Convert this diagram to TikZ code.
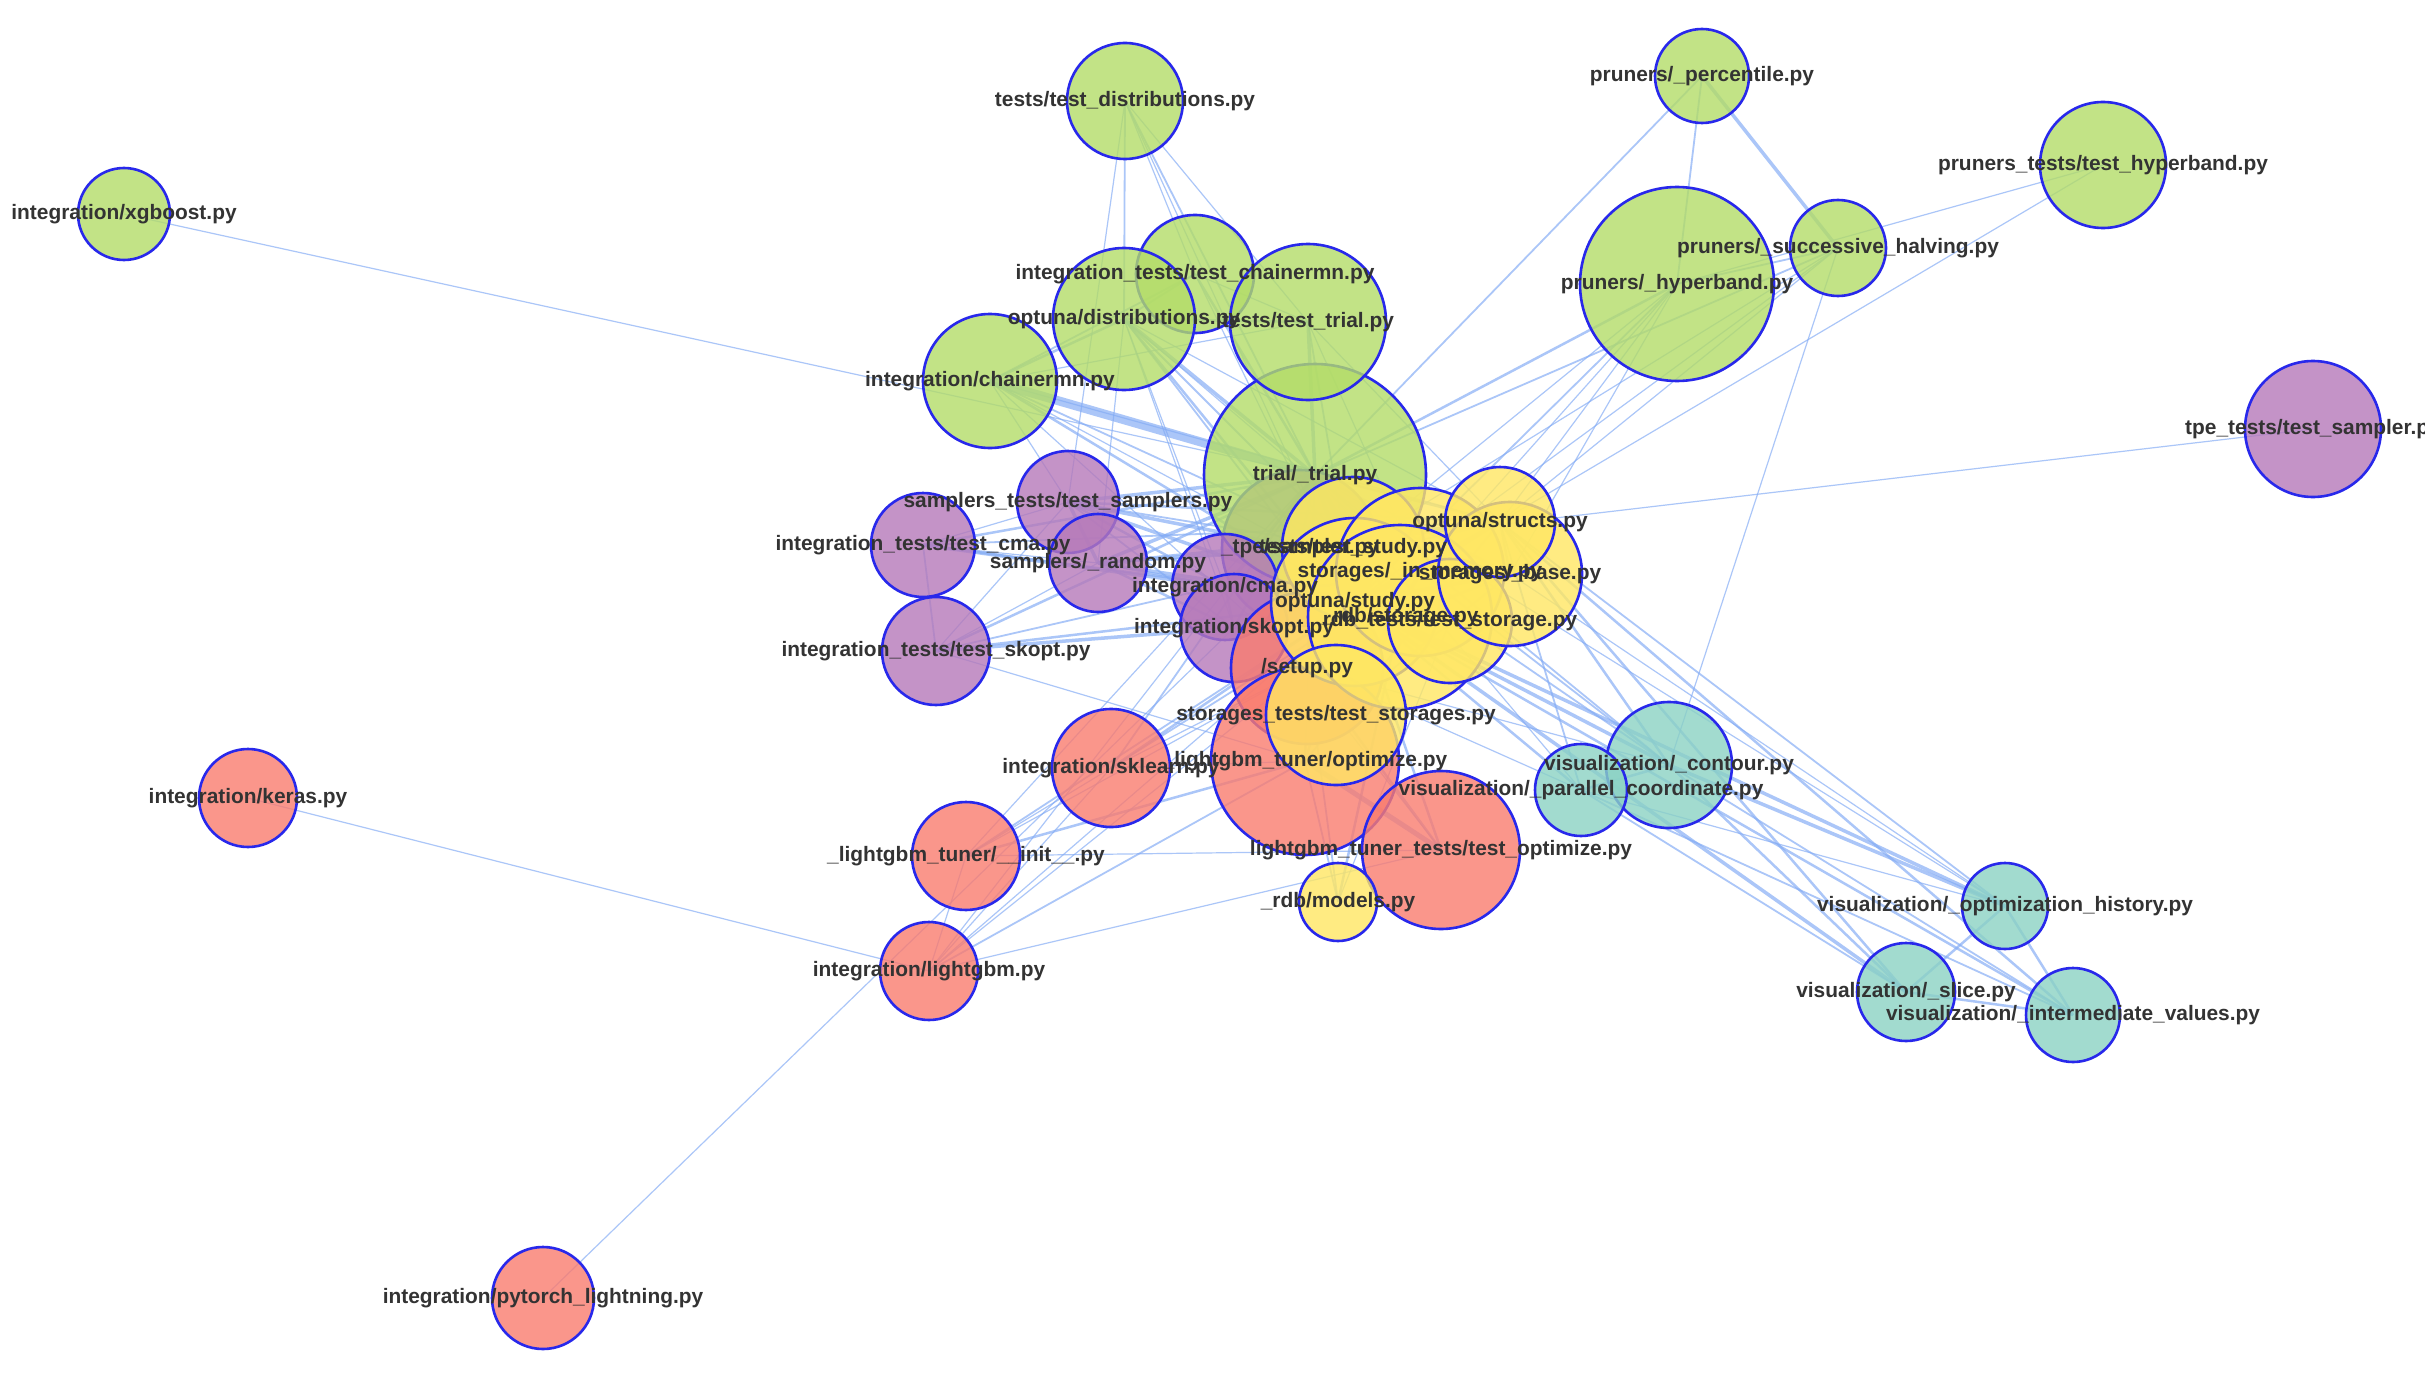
\documentclass[tikz,border=0pt]{standalone}
\usepackage{fontspec}
\setmainfont{Liberation Sans}
\definecolor{cgreen}{RGB}{179,220,104}
\definecolor{cpurple}{RGB}{182,121,185}
\definecolor{cyellow}{RGB}{255,231,99}
\definecolor{cred}{RGB}{249,124,111}
\definecolor{cteal}{RGB}{139,210,196}
\definecolor{cborder}{RGB}{40,40,235}
\definecolor{cedge}{RGB}{132,172,245}
\definecolor{ctext}{RGB}{51,51,51}
\begin{document}
\begin{tikzpicture}[x=1pt,y=-1pt,
  nd/.style={circle, draw=cborder, line width=2.6pt, fill opacity=0.8, inner sep=0pt, outer sep=0pt},
  ed/.style={draw=cedge, draw opacity=0.68, line width=#1pt},
  ed/.default=1,
  lbl/.style={font=\fontsize{20.9}{25}\selectfont\bfseries, text=ctext, inner sep=0pt}]
\fill[white] (0,0) rectangle (2425,1375);
\useasboundingbox (0,0) rectangle (2425,1375);
% centres
\coordinate (xgb) at (124,214);
\coordinate (tdist) at (1125,101);
\coordinate (perc) at (1702,76);
\coordinate (thyper) at (2103,165);
\coordinate (sh) at (1838,248);
\coordinate (hyper) at (1677,284);
\coordinate (chmn) at (990,381);
\coordinate (dist) at (1124,319);
\coordinate (tchmn) at (1195,274);
\coordinate (ttrial) at (1308,322);
\coordinate (trial) at (1315,475);
\coordinate (tpets) at (2313,429);
\coordinate (stests) at (1068,502);
\coordinate (tcma) at (923,545);
\coordinate (random) at (1098,563);
\coordinate (tskopt) at (936,651);
\coordinate (cma) at (1225,587);
\coordinate (skopt) at (1234,628);
\coordinate (tpe) at (1300,548);
\coordinate (structs) at (1500,522);
\coordinate (base) at (1510,574);
\coordinate (tstudy) at (1353,548);
\coordinate (inmem) at (1420,572);
\coordinate (study) at (1355,602);
\coordinate (rdbst) at (1400,617);
\coordinate (trdb) at (1450,621);
\coordinate (tstor) at (1336,715);
\coordinate (models) at (1338,902);
\coordinate (setup) at (1307,668);
\coordinate (sklearn) at (1111,768);
\coordinate (lgbopt) at (1305,761);
\coordinate (lgbtest) at (1441,850);
\coordinate (init) at (966,856);
\coordinate (lgb) at (929,971);
\coordinate (keras) at (248,798);
\coordinate (ptl) at (543,1298);
\coordinate (contour) at (1669,765);
\coordinate (parcoord) at (1581,790);
\coordinate (hist) at (2005,906);
\coordinate (slice) at (1906,992);
\coordinate (interm) at (2073,1015);
% edges
\foreach \a/\b/\w in {
 xgb/trial/1.2, tdist/dist/1.8, tdist/tchmn/1.2, tdist/ttrial/1.2, tdist/trial/1.8, tdist/study/1.2, tdist/stests/1.2,
 perc/hyper/1.8, perc/sh/3.5, perc/trial/1.8, thyper/hyper/1.2, thyper/structs/1.2,
 sh/hyper/1.8, sh/trial/1.8, sh/study/1.2, sh/tstudy/1.2, sh/contour/1.2, sh/structs/1.2,
 hyper/trial/2.5, hyper/study/1.8, hyper/tstudy/1.2, hyper/structs/1.2, hyper/inmem/1.2, hyper/base/1.2,
 chmn/trial/9, chmn/dist/2.5, chmn/study/2.5, chmn/tchmn/1.8, chmn/ttrial/1.2, chmn/tstudy/1.8, chmn/structs/1.2,
 chmn/setup/1.2, chmn/tpe/1.2, chmn/stests/1.2,
 dist/trial/3.5, dist/ttrial/2.5, dist/tchmn/1.8, dist/study/2.5, dist/tstudy/1.8, dist/inmem/1.2, dist/random/1.2,
 dist/tpe/1.8, dist/cma/1.2, dist/skopt/1.2, dist/structs/1.2,
 tchmn/trial/2.5, tchmn/ttrial/1.2, tchmn/study/1.2, ttrial/trial/3.5, ttrial/study/1.8, ttrial/structs/1.2, ttrial/inmem/1.2,
 trial/study/5, trial/tstudy/3.5, trial/structs/2.5, trial/inmem/2.5, trial/base/2.5, trial/rdbst/2.5, trial/setup/1.8,
 trial/cma/2.5, trial/skopt/2.5, trial/random/3.5, trial/stests/3.5, trial/tcma/2.5, trial/tskopt/2.5, trial/tpe/3.5,
 trial/sklearn/1.8, trial/lgbopt/1.8, trial/contour/1.8, trial/parcoord/1.2, trial/lgb/1.2, trial/init/1.2, trial/hist/1.2,
 stests/random/3.5, stests/tpe/3.5, stests/study/3.5, stests/structs/2.5, stests/tstudy/1.8, stests/cma/2.5, stests/skopt/1.8, stests/tcma/1.2,
 tcma/cma/3.5, tcma/study/2.5, tcma/tskopt/1.8, tcma/random/1.2, tcma/structs/1.8,
 tskopt/skopt/3.5, tskopt/study/2.5, tskopt/structs/1.8, tskopt/random/1.2, tskopt/stests/1.2, tskopt/lgbopt/1.2,
 random/study/3.5, random/tpe/3.5, random/structs/2.5, random/cma/2.5, random/skopt/2.5, random/tstudy/1.8,
 cma/study/2.5, cma/skopt/2.5, skopt/study/2.5, tpe/study/2.5, tpe/structs/1.8, tpets/tpe/1.2,
 study/structs/3.5, study/tstudy/3.5, study/inmem/3.5, study/base/3.5, study/rdbst/3.5, study/tstor/2.5, study/setup/1.8,
 structs/inmem/1.8, structs/base/2.5, inmem/base/2.5, inmem/tstor/2.5, rdbst/trdb/2.5, rdbst/models/2.5, rdbst/tstor/2.5,
 rdbst/base/2.5, trdb/models/1.2, models/setup/1.8, models/lgbopt/1.8, tstor/base/1.8,
 setup/sklearn/1.2, setup/lgbopt/2.5, setup/lgbtest/2.5, setup/init/1.2, setup/lgb/1.2,
 sklearn/study/2.5, sklearn/structs/1.8, sklearn/init/1.2, sklearn/lgbopt/1.2, sklearn/lgb/1.2,
 lgbopt/lgbtest/5, lgbopt/init/2.5, lgbopt/lgb/1.8, lgbopt/study/2.5, lgbopt/structs/1.8,
 lgbtest/init/1.2, lgbtest/lgb/1.2, lgbtest/study/2.5, lgbtest/tstor/1.2, init/lgb/1.2, init/study/1.8, lgb/study/1.2,
 keras/lgb/1.2, ptl/skopt/1.2,
 contour/parcoord/2.5, contour/hist/3.5, contour/slice/2.5, contour/interm/1.8, parcoord/hist/1.2, parcoord/slice/1.8,
 parcoord/interm/1.8, hist/slice/2.5, hist/interm/2.5, slice/interm/2.5,
 study/contour/3.5, study/parcoord/2.5, study/hist/3.5, study/slice/3.5, study/interm/2.5,
 structs/contour/2.5, structs/parcoord/1.8, structs/hist/1.8, structs/slice/2.5, structs/interm/2.5,
 tstudy/contour/1.8, inmem/contour/1.8, base/hist/1.2, setup/contour/1.2, setup/parcoord/1.2}
 \draw[ed=\w] (\a) -- (\b);
% circles
\foreach \n/\c/\r in {
 xgb/cgreen/46, tdist/cgreen/58, perc/cgreen/47, thyper/cgreen/63, sh/cgreen/48, hyper/cgreen/97,
 chmn/cgreen/67, tchmn/cgreen/59, dist/cgreen/71, tpe/cpurple/78, trial/cgreen/111, ttrial/cgreen/78,
 tpets/cpurple/68, stests/cpurple/51, tcma/cpurple/52, random/cpurple/49, tskopt/cpurple/54,
 keras/cred/49, ptl/cred/51, lgb/cred/49, init/cred/54, sklearn/cred/59,
 cma/cpurple/53, skopt/cpurple/54, setup/cred/76, lgbopt/cred/94, lgbtest/cred/79,
 tstudy/cyellow/71, study/cyellow/84, inmem/cyellow/84, rdbst/cyellow/92, trdb/cyellow/62,
 base/cyellow/72, structs/cyellow/55, tstor/cyellow/70, models/cyellow/39,
 contour/cteal/63, parcoord/cteal/46, hist/cteal/43, slice/cteal/49, interm/cteal/47}
 \node[nd, fill=\c, minimum size=2*\r] (\n-c) at (\n) {};
% labels
\foreach \n/\t in {
 xgb/integration\slash xgboost.py,
 tdist/tests\slash test\_distributions.py,
 perc/pruners\slash \_percentile.py,
 thyper/pruners\_tests\slash test\_hyperband.py,
 sh/pruners\slash \_successive\_halving.py,
 hyper/pruners\slash \_hyperband.py,
 chmn/integration\slash chainermn.py,
 tchmn/integration\_tests\slash test\_chainermn.py,
 dist/optuna\slash distributions.py,
 ttrial/tests\slash test\_trial.py,
 trial/trial\slash \_trial.py,
 tpets/tpe\_tests\slash test\_sampler.py,
 stests/samplers\_tests\slash test\_samplers.py,
 tcma/integration\_tests\slash test\_cma.py,
 random/samplers\slash \_random.py,
 tskopt/integration\_tests\slash test\_skopt.py,
 cma/integration\slash cma.py,
 skopt/integration\slash skopt.py,
 tpe/\_tpe\slash sampler.py,
 structs/optuna\slash structs.py,
 base/storages\slash \_base.py,
 tstudy/tests\slash test\_study.py,
 inmem/storages\slash \_in\_memory.py,
 study/optuna\slash study.py,
 rdbst/\_rdb\slash storage.py,
 trdb/rdb\_tests\slash test\_storage.py,
 tstor/storages\_tests\slash test\_storages.py,
 models/\_rdb\slash models.py,
 setup/\slash setup.py,
 sklearn/integration\slash sklearn.py,
 lgbopt/\_lightgbm\_tuner\slash optimize.py,
 lgbtest/lightgbm\_tuner\_tests\slash test\_optimize.py,
 init/\_lightgbm\_tuner\slash \_\_init\_\_.py,
 lgb/integration\slash lightgbm.py,
 keras/integration\slash keras.py,
 ptl/integration\slash pytorch\_lightning.py,
 contour/visualization\slash \_contour.py,
 parcoord/visualization\slash \_parallel\_coordinate.py,
 hist/visualization\slash \_optimization\_history.py,
 slice/visualization\slash \_slice.py,
 interm/visualization\slash \_intermediate\_values.py}
 \node[lbl] (\n-l) at (\n) {\t};
\end{tikzpicture}
\end{document}
